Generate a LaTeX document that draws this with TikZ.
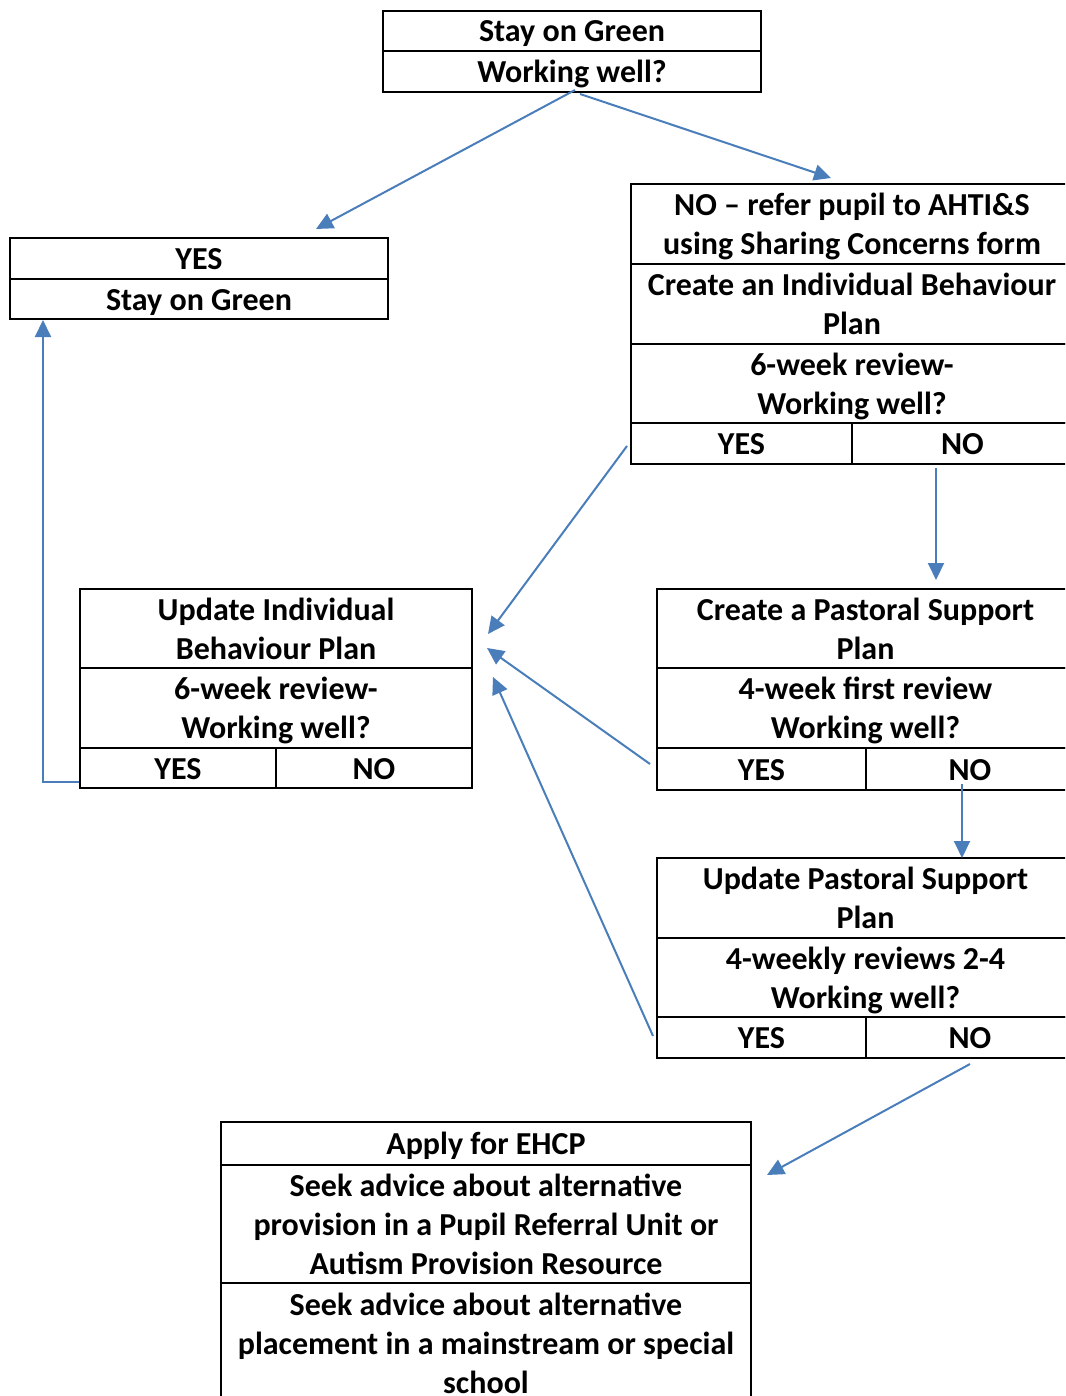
\documentclass[tikz,border=0pt]{standalone}
\usepackage{fontspec}
\setmainfont{Carlito}
\usepackage{xcolor}
\usetikzlibrary{
    arrows.meta,
    calc,
    positioning
}
\definecolor{flowblue}{HTML}{4A7EBB}
\newcommand{\cellstrut}{\rule[-8pt]{0pt}{38pt}}
\tikzset{
    cell/.style={draw, line width=2pt, anchor=north west, inner sep=0pt,
        align=center, font=\bfseries\fontsize{32}{39}\selectfont,
        execute at begin node=\cellstrut, execute at end node=\cellstrut},
    flow/.style={draw=flowblue, line width=2pt,
        -{Triangle[length=17pt,width=16pt]}}
}

\begin{document}
\begin{tikzpicture}[x=1pt, y=1pt]
                        \useasboundingbox (0, 0) rectangle (1065, -1396);
                        \clip (0, 0) rectangle (1065, -1396);
                        % top box
                        \node[cell, minimum width=378, minimum height=40] (green1) at (382, -10) {Stay on Green};
                        \node[cell, minimum width=378, minimum height=41] (green2) at (382, -50) {Working well?};
                        % yes box
                        \node[cell, minimum width=378, minimum height=41] (yes1) at (9, -237) {YES};
                        \node[cell, minimum width=378, minimum height=40] (yes2) at (9, -278) {Stay on Green};
                        % individual behaviour plan
                        \node[cell, minimum width=442, minimum height=80] (ibp1) at (630, -183) {\cellstrut NO – refer pupil to AHTI\&S\\using Sharing Concerns form};
                        \node[cell, minimum width=442, minimum height=80] (ibp2) at (630, -263) {\cellstrut Create an Individual Behaviour\\Plan};
                        \node[cell, minimum width=442, minimum height=79] (ibp3) at (630, -343) {\cellstrut 6-week review-\\Working well?};
                        \node[cell, minimum width=221, minimum height=41] (ibpyes) at (630, -422) {YES};
                        \node[cell, minimum width=221, minimum height=41] (ibpno) at (851, -422) {NO};
                        % update individual behaviour plan
                        \node[cell, minimum width=392, minimum height=79] (upd1) at (79, -588) {\cellstrut Update Individual\\Behaviour Plan};
                        \node[cell, minimum width=392, minimum height=80] (upd2) at (79, -667) {\cellstrut 6-week review-\\Working well?};
                        \node[cell, minimum width=196, minimum height=40] (updyes) at (79, -747) {YES};
                        \node[cell, minimum width=196, minimum height=40] (updno) at (275, -747) {NO};
                        % pastoral support plan
                        \node[cell, minimum width=417, minimum height=79] (psp1) at (656, -588) {\cellstrut Create a Pastoral Support\\Plan};
                        \node[cell, minimum width=417, minimum height=80] (psp2) at (656, -667) {\cellstrut 4-week first review\\Working well?};
                        \node[cell, minimum width=209, minimum height=42] (pspyes) at (656, -747) {YES};
                        \node[cell, minimum width=208, minimum height=42] (pspno) at (865, -747) {NO};
                        % update pastoral support plan
                        \node[cell, minimum width=417, minimum height=80] (upsp1) at (656, -857) {\cellstrut Update Pastoral Support\\Plan};
                        \node[cell, minimum width=417, minimum height=79] (upsp2) at (656, -937) {\cellstrut 4-weekly reviews 2-4\\Working well?};
                        \node[cell, minimum width=209, minimum height=41] (upspyes) at (656, -1016) {YES};
                        \node[cell, minimum width=208, minimum height=41] (upspno) at (865, -1016) {NO};
                        % ehcp
                        \node[cell, minimum width=530, minimum height=43] (ehcp1) at (220, -1121) {Apply for EHCP};
                        \node[cell, minimum width=530, minimum height=118] (ehcp2) at (220, -1164) {\cellstrut Seek advice about alternative\\provision in a Pupil Referral Unit or\\Autism Provision Resource};
                        \node[cell, minimum width=530, minimum height=120] (ehcp3) at (220, -1282) {\cellstrut Seek advice about alternative\\placement in a mainstream or special\\school};
                        % arrow ends
                        \coordinate (s1) at (575, -90);
                        \coordinate (e1) at (316, -229);
                        \coordinate (s2) at (580, -94);
                        \coordinate (e2) at (831, -178);
                        \coordinate (s3) at (627, -446);
                        \coordinate (e3) at (488, -634);
                        \coordinate (s4) at (936, -468);
                        \coordinate (e4) at (936, -580);
                        \coordinate (s5) at (650, -764);
                        \coordinate (e5) at (487, -648);
                        \coordinate (s6) at (653, -1036);
                        \coordinate (e6) at (493, -677);
                        \coordinate (s7) at (962, -784);
                        \coordinate (e7) at (962, -858);
                        \coordinate (s8) at (970, -1064);
                        \coordinate (e8) at (767, -1175);
                        \coordinate (s9) at (79, -782);
                        \coordinate (bend) at (43, -782);
                        \coordinate (e9) at (43, -320);
                        \draw
                        (s1) edge[flow] (e1)
                        (s2) edge[flow] (e2)
                        (s3) edge[flow] (e3)
                        (s4) edge[flow] (e4)
                        (s5) edge[flow] (e5)
                        (s6) edge[flow] (e6)
                        (s7) edge[flow] (e7)
                        (s8) edge[flow] (e8);
                        \draw[flow] (s9) -- (bend) -- (e9);
                    \end{tikzpicture}
\end{document}
